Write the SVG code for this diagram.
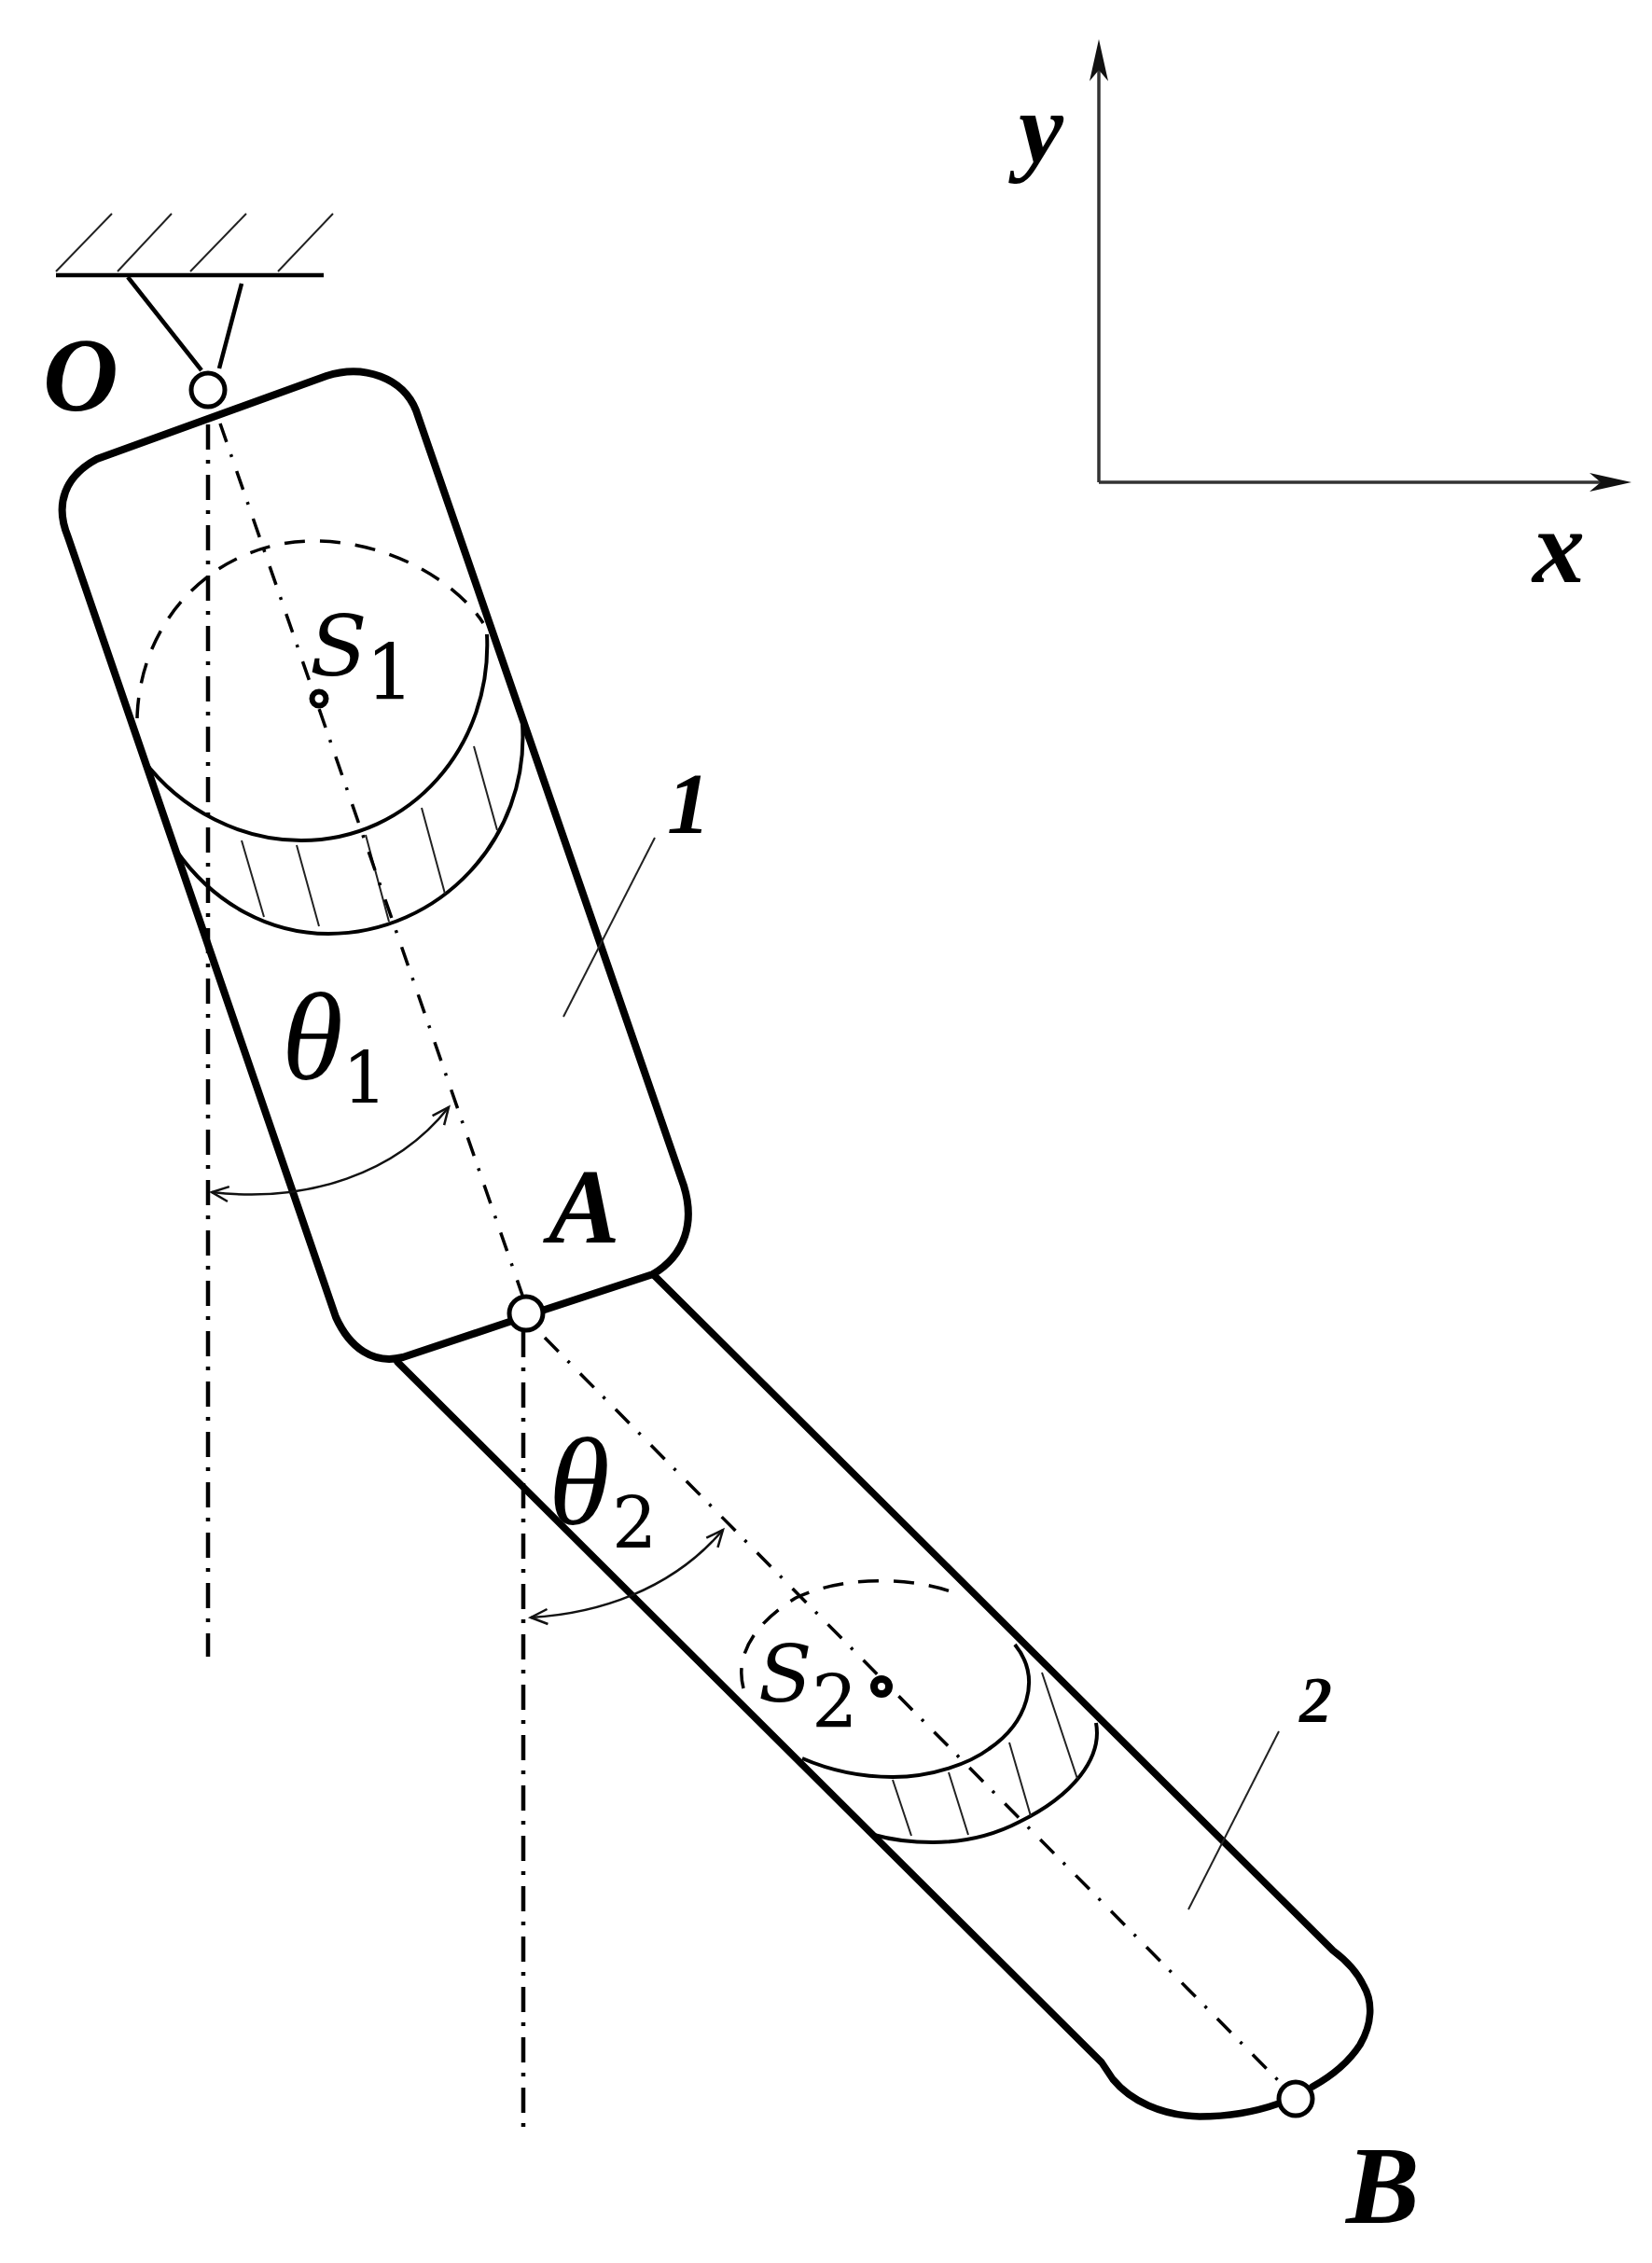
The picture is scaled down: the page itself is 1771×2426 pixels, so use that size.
<svg xmlns="http://www.w3.org/2000/svg" width="1771" height="2426" viewBox="0 0 1771 2426">
<style>
text{font-family:"Liberation Serif","Times New Roman",serif;fill:#000}
.lb{font-weight:bold;font-style:italic}
.mi{font-style:italic}
.dj{font-family:"DejaVu Serif","Liberation Serif",serif}
.thick{fill:none;stroke:#000;stroke-width:7.5;stroke-linecap:round;stroke-linejoin:round}
.med{fill:none;stroke:#000;stroke-width:4.5}
.thin{fill:none;stroke:#222;stroke-width:2}
.dash{fill:none;stroke:#000;stroke-width:3.5;stroke-dasharray:22 16}
.axis{fill:none;stroke:#000;stroke-width:3.5;stroke-dasharray:21 14 3 16}
.vert{fill:none;stroke:#000;stroke-width:4.5;stroke-dasharray:27 11 4 12}
.joint{fill:#fff;stroke:#000;stroke-width:5}
.coord{fill:none;stroke:#333;stroke-width:3.5}
.angle{fill:none;stroke:#111;stroke-width:2.5}
</style>
<defs>
<marker id="head" markerUnits="userSpaceOnUse" markerWidth="46" markerHeight="20" refX="36" refY="10" orient="auto"><path d="M45 10L0 0L12 10L0 20Z" fill="#111"/></marker>
<marker id="open" markerUnits="userSpaceOnUse" markerWidth="24" markerHeight="24" refX="20" refY="12" orient="auto-start-reverse"><path d="M2 4L20 12L2 20" fill="none" stroke="#111" stroke-width="2.5"/></marker>
</defs>
<rect width="1771" height="2426" fill="#fff"/>
<g id="coordinates">
<path class="coord" d="M1178 517V51" marker-end="url(#head)"/>
<path class="coord" d="M1178 517H1740" marker-end="url(#head)"/>
<text class="lb" x="1092" y="174" font-size="108">y</text>
<text class="lb" x="1643" y="624" font-size="112">x</text>
</g>
<g id="ground">
<path class="med" d="M60 295H347"/>
<path class="thin" d="M60 291L120 229M126 291L184 229M204 291L264 229M298 291L357 229"/>
<path class="med" d="M137 297L216 397M259 304L235 395"/>
</g>
<g id="link-2">
<path class="thick" d="M700 1366L1429 2091C1445 2103 1456 2116 1462 2129C1472 2146 1471 2170 1458 2192C1445 2212 1425 2227 1407 2237M1371 2255C1340 2266 1312 2269 1286 2269C1245 2268 1212 2252 1193 2229L1181 2211L426 1460"/>
<path class="dash" d="M797 1810C787 1772 812 1738 853 1713C890 1695 960 1685 1025 1708"/>
<path class="med" d="M860 1885C890 1898 925 1905 957 1905C1000 1905 1040 1890 1060 1875C1100 1848 1118 1800 1088 1763" style="stroke-width:4"/>
<path class="med" d="M937 1967C958 1973 980 1975 1000 1975C1040 1975 1070 1965 1093 1953C1150 1925 1182 1885 1175 1847" style="stroke-width:4"/>
<path class="thin" d="M957 1908L977 1968M1017 1900L1038 1967M1082 1868L1105 1947M1117 1793L1155 1907"/>
<path class="thin" d="M1371 1856L1274 2047"/>
<text class="lb" x="1393" y="1846" font-size="70">2</text>
</g>
<g id="link-1">
<path class="thick" d="M104 492L350 403C390 390 432 405 446 440L733 1271C745 1310 735 1345 700 1366L584 1404M546 1417L432 1455C400 1463 375 1445 360 1412L73 576C58 540 70 510 104 492" style="stroke-width:8"/>
<path class="dash" d="M147 770C150 660 235 580 336 580C420 580 490 625 518 668"/>
<path class="med" d="M153 814C195 870 260 901 323 901C440 901 528 800 522 680" style="stroke-width:4"/>
<path class="med" d="M189 912C230 970 290 1001 352 1001C470 1001 568 900 560 776" style="stroke-width:4"/>
<path class="thin" d="M259 901L283 983M318 906L342 993M392 895L417 988M452 866L477 958M508 800L533 890"/>
<path class="thin" d="M702 898L604 1090"/>
<text class="lb" x="715" y="893" font-size="93">1</text>
</g>
<g id="connectors">
<path class="axis" d="M236 454L564 1400"/>
<path class="axis" d="M584 1434L1372 2232"/>
<path class="vert" d="M223 455V1776"/>
<path class="vert" d="M561 1428V2286"/>
<path class="angle" d="M227 1278C330 1290 425 1258 481 1187" marker-start="url(#open)" marker-end="url(#open)"/>
<path class="angle" d="M569 1734C640 1730 720 1705 775 1640" marker-start="url(#open)" marker-end="url(#open)"/>
</g>
<g id="point-S1">
<circle cx="342" cy="749" r="7.5" fill="#fff" stroke="#000" stroke-width="6"/>
<text class="mi dj" x="332" y="724" font-size="90">S</text>
<text class="dj" x="392" y="750" font-size="82">1</text>
</g>
<g id="point-S2">
<circle cx="945" cy="1808" r="8" fill="#fff" stroke="#000" stroke-width="8"/>
<text class="mi dj" x="813" y="1824" font-size="84">S</text>
<text class="dj" x="870" y="1852" font-size="78">2</text>
</g>
<g id="theta-1">
<text class="mi" x="302" y="1157" font-size="134">θ</text>
<text class="dj" x="367" y="1182" font-size="76">1</text>
</g>
<g id="theta-2">
<text class="mi" x="588" y="1634" font-size="134">θ</text>
<text class="dj" x="656" y="1659" font-size="76">2</text>
</g>
<g id="joint-O">
<circle class="joint" cx="223" cy="418" r="18"/>
<text class="lb" x="46" y="440" font-size="112">O</text>
</g>
<g id="joint-A">
<circle class="joint" cx="564" cy="1408" r="18"/>
<text class="lb" x="588" y="1332" font-size="115">A</text>
</g>
<g id="joint-B">
<circle class="joint" cx="1389" cy="2250" r="18"/>
<text class="lb" x="1443" y="2383" font-size="118">B</text>
</g>
</svg>
